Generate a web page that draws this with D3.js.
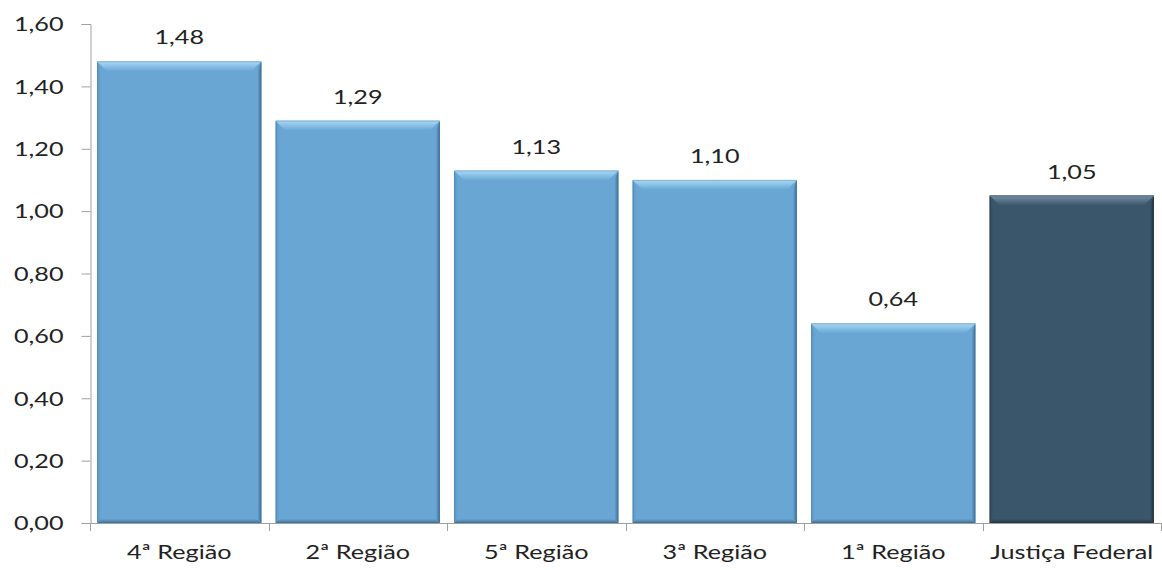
<!DOCTYPE html>
<html><head><meta charset="utf-8">
<script src="https://cdn.jsdelivr.net/npm/d3@7"></script>
<style>body{margin:0;background:#fff}svg{display:block}</style>
</head><body>
<svg id="c" width="1162" height="570"></svg>
<script>
const categories = ["4ª Região","2ª Região","5ª Região","3ª Região","1ª Região","Justiça Federal"];
const values = [1.48,1.29,1.13,1.10,0.64,1.05];
const tickValues = [0,0.2,0.4,0.6,0.8,1.0,1.2,1.4,1.6];

const svg = d3.select("#c");
const fmt = v => d3.format(".2f")(v).replace(".", ",");
const x = d3.scaleBand().domain(categories).range([90,1161]).paddingInner(0.08).paddingOuter(0.04);
const y = d3.scaleLinear().domain([0,1.6]).range([523,24]);
const font = "Lato, 'Open Sans', sans-serif";
const sx = 1.26;

function stretchText(sel){
  sel.each(function(){
    const t = d3.select(this);
    const xx = +t.attr("x") || 0, yy = +t.attr("y") || 0;
    t.attr("x",0).attr("y",0).attr("transform",`translate(${xx},${yy}) scale(${sx},1)`);
  });
}

// defs
const defs = svg.append("defs");
function grad(id, x1,y1,x2,y2, c1, c2){
  const g = defs.append("linearGradient").attr("id",id).attr("x1",x1).attr("y1",y1).attr("x2",x2).attr("y2",y2);
  g.append("stop").attr("offset","0%").attr("stop-color",c1);
  g.append("stop").attr("offset","100%").attr("stop-color",c2);
}
const pal = [
  {base:"#69a6d3", top:"#a9d9f7", dark:"#3f6f96", left:"#5c97c4"},
  {base:"#3a566b", top:"#7690a3", dark:"#22343f", left:"#33495a"}
];
pal.forEach((p,i)=>{
  grad("top"+i,0,0,0,1,p.top,p.base);
  grad("right"+i,0,0,1,0,p.base,p.dark);
  grad("bottom"+i,0,0,0,1,p.base,p.dark);
  grad("left"+i,0,0,1,0,p.left,p.base);
});

// axes
const ya = svg.append("g").attr("transform","translate(90.5,0)").call(d3.axisLeft(y).tickValues(tickValues).tickSize(9).tickPadding(27).tickFormat(fmt));
ya.selectAll("line,path").attr("stroke","#a0a0a0");
ya.selectAll("text").attr("font-family",font).attr("font-size",20).attr("fill","#222")
  .attr("text-anchor","end").attr("dy","0.34em").attr("x",0)
  .attr("transform",`translate(-27,0) scale(${sx},1)`);

const xt = d3.scaleLinear().domain([0,6]).range([90,1161]);
svg.append("line").attr("x1",90).attr("x2",1161).attr("y1",523.5).attr("y2",523.5).attr("stroke","#a0a0a0");
svg.selectAll(".xt").data(d3.range(7)).join("line").attr("x1",d=>Math.round(xt(d))+0.5).attr("x2",d=>Math.round(xt(d))+0.5).attr("y1",523).attr("y2",531).attr("stroke","#a0a0a0");
svg.selectAll(".xl").data(categories).join("text")
  .attr("x",d=>x(d)+x.bandwidth()/2).attr("y",559).attr("text-anchor","middle")
  .attr("font-family",font).attr("font-size",20).attr("fill","#222").text(d=>d).call(stretchText);

// bars with bevel
const g = svg.append("g");
categories.forEach((c,i)=>{
  const pi = i===5 ? 1 : 0, p = pal[pi];
  const x0 = x(c), x1 = x(c)+x.bandwidth(), y0 = y(values[i]), y1 = y(0);
  const bt = 10, bs = 4, bb = 4;
  g.append("rect").attr("x",x0).attr("y",y0).attr("width",x1-x0).attr("height",y1-y0).attr("fill",p.base);
  g.append("path").attr("d",`M${x0},${y0}L${x0+bs},${y0+bt}L${x0+bs},${y1-bb}L${x0},${y1}Z`).attr("fill",`url(#left${pi})`);
  g.append("path").attr("d",`M${x1},${y0}L${x1},${y1}L${x1-bs},${y1-bb}L${x1-bs},${y0+bt}Z`).attr("fill",`url(#right${pi})`);
  g.append("path").attr("d",`M${x0},${y1}L${x1},${y1}L${x1-bs},${y1-bb}L${x0+bs},${y1-bb}Z`).attr("fill",`url(#bottom${pi})`);
  g.append("path").attr("d",`M${x0},${y0}L${x1},${y0}L${x1-bt},${y0+bt}L${x0+bt},${y0+bt}Z`).attr("fill",`url(#top${pi})`);
  g.append("line").attr("x1",x0).attr("x2",x1).attr("y1",y0+0.5).attr("y2",y0+0.5).attr("stroke",p.top);
  g.append("rect").attr("x",x0+0.5).attr("y",y0+0.5).attr("width",x1-x0-1).attr("height",y1-y0-1).attr("fill","none").attr("stroke",p.dark).attr("stroke-opacity",0.35);
  g.append("text").attr("x",(x0+x1)/2).attr("y",y0-17).attr("text-anchor","middle")
   .attr("font-family",font).attr("font-size",20).attr("fill","#222").text(fmt(values[i])).call(stretchText);
});
</script>
</body></html>
